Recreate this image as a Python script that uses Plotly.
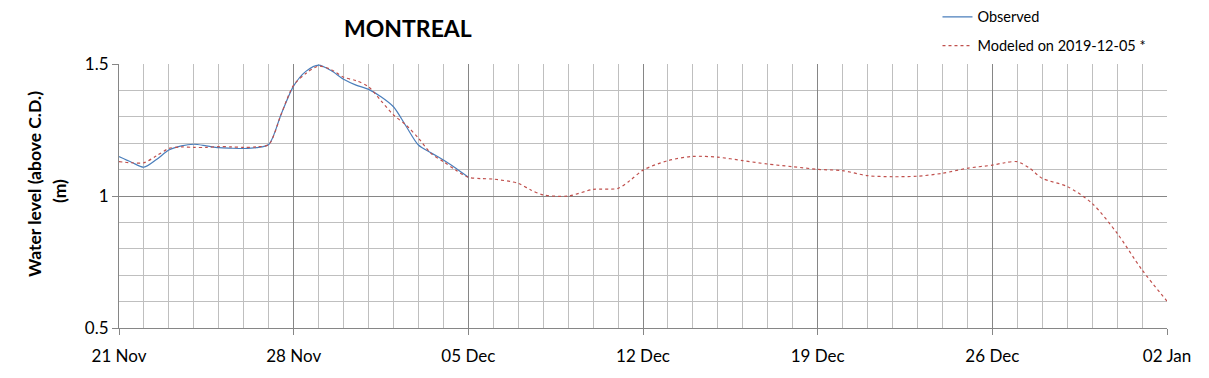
import plotly.graph_objects as go

obs_dates = [
    "2019-11-21 00:00", "2019-11-21 12:00", "2019-11-22 00:00", "2019-11-22 12:00",
    "2019-11-23 00:00", "2019-11-23 12:00", "2019-11-24 00:00", "2019-11-24 12:00",
    "2019-11-25 00:00", "2019-11-25 12:00", "2019-11-26 00:00", "2019-11-26 12:00",
    "2019-11-27 00:00", "2019-11-27 12:00", "2019-11-28 00:00", "2019-11-28 12:00",
    "2019-11-29 00:00", "2019-11-29 12:00", "2019-11-30 00:00", "2019-11-30 12:00",
    "2019-12-01 00:00", "2019-12-01 12:00", "2019-12-02 00:00", "2019-12-02 12:00",
    "2019-12-03 00:00", "2019-12-03 12:00", "2019-12-04 00:00", "2019-12-04 12:00",
    "2019-12-05 00:00",
]
obs_values = [
    1.149, 1.128, 1.109, 1.138, 1.174, 1.190, 1.196, 1.190,
    1.183, 1.181, 1.180, 1.183, 1.195, 1.310, 1.417, 1.473,
    1.496, 1.475, 1.442, 1.420, 1.404, 1.376, 1.338, 1.265,
    1.193, 1.164, 1.136, 1.105, 1.071,
]

mod_dates = [
    "2019-11-21 00:00", "2019-11-21 12:00", "2019-11-22 00:00", "2019-11-22 12:00",
    "2019-11-23 00:00", "2019-11-23 12:00", "2019-11-24 00:00", "2019-11-24 12:00",
    "2019-11-25 00:00", "2019-11-25 12:00", "2019-11-26 00:00", "2019-11-26 12:00",
    "2019-11-27 00:00", "2019-11-27 12:00", "2019-11-28 00:00", "2019-11-28 12:00",
    "2019-11-29 00:00", "2019-11-29 12:00", "2019-11-30 00:00", "2019-11-30 12:00",
    "2019-12-01 00:00", "2019-12-01 12:00", "2019-12-02 00:00", "2019-12-02 12:00",
    "2019-12-03 00:00", "2019-12-03 12:00", "2019-12-04 00:00", "2019-12-04 12:00",
    "2019-12-05 00:00", "2019-12-05 12:00", "2019-12-06 00:00", "2019-12-07 00:00",
    "2019-12-07 12:00", "2019-12-08 00:00", "2019-12-09 00:00", "2019-12-10 00:00",
    "2019-12-11 00:00", "2019-12-11 12:00", "2019-12-12 00:00", "2019-12-13 00:00",
    "2019-12-14 00:00", "2019-12-15 00:00", "2019-12-16 00:00", "2019-12-17 00:00",
    "2019-12-18 00:00", "2019-12-19 00:00", "2019-12-20 00:00", "2019-12-21 00:00",
    "2019-12-22 00:00", "2019-12-23 00:00", "2019-12-24 00:00", "2019-12-25 00:00",
    "2019-12-26 00:00", "2019-12-26 12:00", "2019-12-27 00:00", "2019-12-27 12:00",
    "2019-12-28 00:00", "2019-12-29 00:00", "2019-12-30 00:00", "2019-12-31 00:00",
    "2020-01-01 00:00", "2020-01-02 00:00",
]
mod_values = [
    1.130, 1.126, 1.126, 1.152, 1.180, 1.186, 1.184, 1.184,
    1.187, 1.186, 1.184, 1.186, 1.195, 1.310, 1.420, 1.465,
    1.492, 1.479, 1.450, 1.437, 1.414, 1.361, 1.307, 1.269,
    1.219, 1.162, 1.130, 1.098, 1.071, 1.066, 1.064, 1.048,
    1.023, 1.004, 1.000, 1.025, 1.029, 1.060, 1.098, 1.134,
    1.150, 1.147, 1.134, 1.121, 1.111, 1.101, 1.096, 1.077,
    1.073, 1.075, 1.086, 1.105, 1.117, 1.126, 1.130, 1.105,
    1.067, 1.036, 0.972, 0.859, 0.720, 0.602,
]

x_range = ["2019-11-21", "2020-01-02"]
y_range = [0.5, 1.5]

FONT = "Lato, 'Open Sans', sans-serif"

fig = go.Figure()
fig.add_trace(go.Scatter(
    x=obs_dates, y=obs_values, mode="lines", name="Observed",
    line=dict(color="#4a7ebb", width=1.2, shape="spline", smoothing=0.8),
    legendgroup="a",
))
fig.add_trace(go.Scatter(
    x=mod_dates, y=mod_values, mode="lines", name="Modeled on 2019-12-05 *",
    line=dict(color="#c0504d", width=1.2, dash="3px,3px", shape="spline", smoothing=0.8),
    legendgroup="b",
))

# page body has an 8px default margin, so the figure is offset by 8px
fig.update_layout(
    width=1201, height=370,
    margin=dict(l=111, r=42, t=56, b=50, autoexpand=False),
    paper_bgcolor="white", plot_bgcolor="white",
    font=dict(family=FONT, color="#000000"),
    showlegend=True,
    legend=dict(
        x=0.781, y=1.239, xanchor="left", yanchor="top",
        font=dict(size=14.5, family=FONT, color="#000000"),
        tracegroupgap=7, bgcolor="rgba(0,0,0,0)",
    ),
    annotations=[
        dict(
            text="<b>MONTREAL</b>", x=(408 - 119) / 1048, y=1.0, xref="paper", yref="paper",
            xanchor="center", yanchor="bottom", yshift=20, showarrow=False,
            font=dict(size=23, family=FONT, color="#000000"),
        ),
        dict(
            text="<b>Water level (above C.D.)</b>", x=0, y=0.5, xref="paper", yref="paper",
            xanchor="center", yanchor="middle", xshift=-85, yshift=12, textangle=-90, showarrow=False,
            font=dict(size=17.5, family=FONT, color="#000000"),
        ),
        dict(
            text="<b>(m)</b>", x=0, y=0.5, xref="paper", yref="paper",
            xanchor="center", yanchor="middle", xshift=-60, yshift=5, textangle=-90, showarrow=False,
            font=dict(size=17.5, family=FONT, color="#000000"),
        ),
    ],
)

fig.update_xaxes(
    type="date", range=x_range,
    dtick=7 * 86400000, tick0="2019-11-21", tickformat="%d %b",
    showgrid=True, gridcolor="#868686", gridwidth=1,
    ticks="outside", ticklen=6, tickcolor="#868686",
    showline=True, linecolor="#868686", linewidth=1, mirror=False,
    tickfont=dict(size=17, family=FONT, color="#000000"),
    ticklabelstandoff=7,
    minor=dict(dtick=86400000, tick0="2019-11-21", showgrid=True, gridcolor="#bfbfbf", gridwidth=1),
    zeroline=False,
)
fig.update_yaxes(
    range=y_range, dtick=0.5, tick0=0.5,
    showgrid=True, gridcolor="#868686", gridwidth=1,
    ticks="outside", ticklen=6, tickcolor="#868686",
    showline=True, linecolor="#868686", linewidth=1,
    tickfont=dict(size=17, family=FONT, color="#000000"),
    minor=dict(dtick=0.1, showgrid=True, gridcolor="#bfbfbf", gridwidth=1),
    zeroline=False,
)

fig.write_html("out.html")
